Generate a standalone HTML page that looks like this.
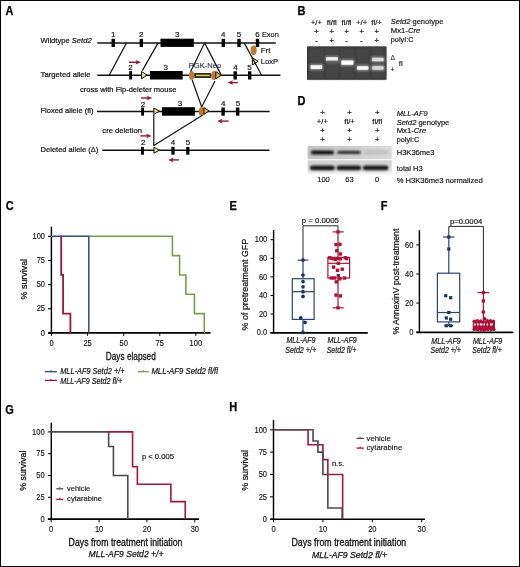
<!DOCTYPE html>
<html><head><meta charset="utf-8"><style>
html,body{margin:0;padding:0;background:#fff;width:520px;height:567px;overflow:hidden}
svg{display:block;will-change:transform}
text{font-family:"Liberation Sans", sans-serif}
</style></head><body>
<svg width="520" height="567" viewBox="0 0 520 567">
<rect width="520" height="567" fill="#fff"/>
<text x="5.5" y="15.3" font-size="12.1" stroke="#000" stroke-width="0.25" font-weight="bold" fill="#000" textLength="7.94" lengthAdjust="spacingAndGlyphs">A</text>
<text x="297.5" y="15.4" font-size="12.1" stroke="#000" stroke-width="0.25" font-weight="bold" fill="#000" textLength="7.94" lengthAdjust="spacingAndGlyphs">B</text>
<text x="5.8" y="210.3" font-size="12.1" stroke="#000" stroke-width="0.25" font-weight="bold" fill="#000" textLength="7.94" lengthAdjust="spacingAndGlyphs">C</text>
<text x="297.5" y="105.4" font-size="12.1" stroke="#000" stroke-width="0.25" font-weight="bold" fill="#000" textLength="7.94" lengthAdjust="spacingAndGlyphs">D</text>
<text x="229.4" y="210.1" font-size="12.1" stroke="#000" stroke-width="0.25" font-weight="bold" fill="#000" textLength="7.34" lengthAdjust="spacingAndGlyphs">E</text>
<text x="380.8" y="210.0" font-size="12.1" stroke="#000" stroke-width="0.25" font-weight="bold" fill="#000" textLength="6.72" lengthAdjust="spacingAndGlyphs">F</text>
<text x="5.3" y="413.9" font-size="12.1" stroke="#000" stroke-width="0.25" font-weight="bold" fill="#000" textLength="8.56" lengthAdjust="spacingAndGlyphs">G</text>
<text x="229.2" y="411.4" font-size="12.1" stroke="#000" stroke-width="0.25" font-weight="bold" fill="#000" textLength="7.94" lengthAdjust="spacingAndGlyphs">H</text>
<text x="40.5" y="42.9" font-size="8.0" stroke="#141414" stroke-width="0.22" fill="#141414" textLength="51.2" lengthAdjust="spacingAndGlyphs">Wildtype <tspan font-style="italic">Setd2</tspan></text>
<text x="40.6" y="77.4" font-size="8.0" stroke="#141414" stroke-width="0.22" fill="#141414" textLength="50.0" lengthAdjust="spacingAndGlyphs">Targeted allele</text>
<text x="40.5" y="113.0" font-size="8.0" stroke="#141414" stroke-width="0.22" fill="#141414" textLength="52.9" lengthAdjust="spacingAndGlyphs">Floxed allele (fl)</text>
<text x="40.6" y="151.9" font-size="8.0" stroke="#141414" stroke-width="0.22" fill="#141414" textLength="57.7" lengthAdjust="spacingAndGlyphs">Deleted allele (Δ)</text>
<text x="80.0" y="92.2" font-size="8.0" stroke="#141414" stroke-width="0.22" fill="#141414" textLength="96.5" lengthAdjust="spacingAndGlyphs">cross with Flp-deleter mouse</text>
<text x="102.3" y="132.8" font-size="8.0" stroke="#141414" stroke-width="0.22" fill="#141414" textLength="39.6" lengthAdjust="spacingAndGlyphs">cre deletion</text>
<text x="113.3" y="37.0" font-size="8.0" stroke="#141414" stroke-width="0.18" text-anchor="middle" fill="#141414">1</text>
<text x="141.3" y="37.0" font-size="8.0" stroke="#141414" stroke-width="0.18" text-anchor="middle" fill="#141414">2</text>
<text x="177.3" y="37.0" font-size="8.0" stroke="#141414" stroke-width="0.18" text-anchor="middle" fill="#141414">3</text>
<text x="223.3" y="37.0" font-size="8.0" stroke="#141414" stroke-width="0.18" text-anchor="middle" fill="#141414">4</text>
<text x="239.0" y="37.0" font-size="8.0" stroke="#141414" stroke-width="0.18" text-anchor="middle" fill="#141414">5</text>
<text x="257.5" y="37.0" font-size="8.0" stroke="#141414" stroke-width="0.18" text-anchor="middle" fill="#141414">6</text>
<text x="261.9" y="36.8" font-size="8.0" stroke="#141414" stroke-width="0.18" fill="#141414" textLength="16.9" lengthAdjust="spacingAndGlyphs">Exon</text>
<ellipse cx="253.6" cy="50.3" rx="3.1" ry="4.8" fill="#bf7b32"/>
<text x="260.7" y="53.0" font-size="8.0" stroke="#141414" stroke-width="0.18" fill="#141414">Frt</text>
<polygon points="252.3,57.7 252.3,65.0 258.2,61.35" fill="#e9dc8c" stroke="#111" stroke-width="1" stroke-linejoin="miter"/>
<text x="260.7" y="63.9" font-size="8.0" stroke="#141414" stroke-width="0.18" fill="#141414" textLength="17.3" lengthAdjust="spacingAndGlyphs">LoxP</text>
<line x1="126.5" y1="42.9" x2="109.2" y2="75.2" stroke="#111" stroke-width="1.2" />
<line x1="158.1" y1="42.9" x2="142.3" y2="70.6" stroke="#111" stroke-width="1.2" />
<line x1="204.6" y1="42.9" x2="190.4" y2="72.0" stroke="#111" stroke-width="1.2" />
<line x1="204.6" y1="42.9" x2="221.0" y2="74.6" stroke="#111" stroke-width="1.2" />
<line x1="244.2" y1="42.9" x2="261.6" y2="75.2" stroke="#111" stroke-width="1.2" />
<line x1="97.3" y1="42.9" x2="275.8" y2="42.9" stroke="#111" stroke-width="1.5" />
<rect x="111.5" y="38.8" width="3.5" height="8.2" fill="#000" />
<rect x="139.6" y="38.8" width="3.4" height="8.2" fill="#000" />
<rect x="160.5" y="38.7" width="33.3" height="8.2" fill="#000" />
<rect x="221.6" y="38.8" width="3.4" height="8.2" fill="#000" />
<rect x="237.3" y="38.8" width="3.4" height="8.2" fill="#000" />
<rect x="255.8" y="38.8" width="3.4" height="8.2" fill="#000" />
<line x1="97.3" y1="75.3" x2="280.4" y2="75.3" stroke="#111" stroke-width="1.5" />
<rect x="129.2" y="71.1" width="2.9" height="8.4" fill="#000" />
<text x="130.5" y="70.0" font-size="8.0" stroke="#141414" stroke-width="0.18" text-anchor="middle" fill="#141414">2</text>
<line x1="129.0" y1="62.3" x2="137.1" y2="62.3" stroke="#8f1637" stroke-width="1.4"/>
<polygon points="141.0,62.3 135.6,60.0 136.79999999999998,62.3 135.6,64.6" fill="#8f1637"/>
<rect x="149.9" y="71.0" width="32.8" height="8.5" fill="#000" />
<text x="165.8" y="69.6" font-size="8.0" stroke="#141414" stroke-width="0.18" text-anchor="middle" fill="#141414">3</text>
<text x="188.8" y="68.0" font-size="7.8" stroke="#2a3444" stroke-width="0.14" fill="#2a3444" textLength="32.4" lengthAdjust="spacingAndGlyphs">PGK-Neo</text>
<rect x="194.3" y="73.1" width="16.5" height="4.8" fill="#111" />
<rect x="195.9" y="74.6" width="13.8" height="1.7" fill="#e8d040" />
<ellipse cx="191.7" cy="75.5" rx="2.7" ry="4.5" fill="#bf7b32"/>
<ellipse cx="213.8" cy="75.5" rx="2.7" ry="4.5" fill="#bf7b32"/>
<polygon points="141.5,71.4 141.5,78.8 147.0,75.1" fill="#e9dc8c" stroke="#111" stroke-width="1" stroke-linejoin="miter"/>
<polygon points="215.8,71.6 215.8,78.9 221.3,75.25" fill="#e7b83a" stroke="#111" stroke-width="1" stroke-linejoin="miter"/>
<rect x="233.5" y="71.3" width="3.4" height="8.2" fill="#000" />
<rect x="248.0" y="71.3" width="3.4" height="8.2" fill="#000" />
<text x="235.4" y="70.0" font-size="8.0" stroke="#141414" stroke-width="0.18" text-anchor="middle" fill="#141414">4</text>
<text x="249.6" y="70.0" font-size="8.0" stroke="#141414" stroke-width="0.18" text-anchor="middle" fill="#141414">5</text>
<line x1="237.8" y1="82.6" x2="231.5" y2="82.6" stroke="#8f1637" stroke-width="1.4"/>
<polygon points="227.6,82.6 233.0,80.3 231.8,82.6 233.0,84.89999999999999" fill="#8f1637"/>
<line x1="192.2" y1="80.0" x2="201.7" y2="107.0" stroke="#111" stroke-width="1.2" />
<line x1="215.0" y1="81.0" x2="201.7" y2="107.0" stroke="#111" stroke-width="1.2" />
<line x1="96.9" y1="111.4" x2="269.6" y2="111.4" stroke="#111" stroke-width="1.5" />
<rect x="141.2" y="107.5" width="2.8" height="8.2" fill="#000" />
<text x="143.0" y="106.9" font-size="8.0" stroke="#141414" stroke-width="0.18" text-anchor="middle" fill="#141414">2</text>
<line x1="141.0" y1="98.0" x2="148.29999999999998" y2="98.0" stroke="#8f1637" stroke-width="1.4"/>
<polygon points="152.2,98.0 146.79999999999998,95.7 147.99999999999997,98.0 146.79999999999998,100.3" fill="#8f1637"/>
<rect x="161.9" y="107.2" width="33.0" height="8.5" fill="#000" />
<text x="180.0" y="105.6" font-size="8.0" stroke="#141414" stroke-width="0.18" text-anchor="middle" fill="#141414">3</text>
<ellipse cx="201.7" cy="111.5" rx="3.0" ry="4.5" fill="#bf7b32"/>
<polygon points="203.9,107.6 203.9,114.4 209.0,111.0" fill="#e7b83a" stroke="#111" stroke-width="1" stroke-linejoin="miter"/>
<polygon points="153.8,108.0 153.8,114.3 159.5,111.15" fill="#e9dc8c" stroke="#111" stroke-width="1" stroke-linejoin="miter"/>
<rect x="221.4" y="107.5" width="3.4" height="8.2" fill="#000" />
<rect x="235.9" y="107.5" width="3.5" height="8.2" fill="#000" />
<text x="223.3" y="105.6" font-size="8.0" stroke="#141414" stroke-width="0.18" text-anchor="middle" fill="#141414">4</text>
<text x="238.0" y="105.6" font-size="8.0" stroke="#141414" stroke-width="0.18" text-anchor="middle" fill="#141414">5</text>
<line x1="228.7" y1="121.1" x2="221.1" y2="121.1" stroke="#8f1637" stroke-width="1.4"/>
<polygon points="217.2,121.1 222.6,118.8 221.4,121.1 222.6,123.39999999999999" fill="#8f1637"/>
<line x1="153.8" y1="114.5" x2="153.8" y2="146.0" stroke="#111" stroke-width="1.2" />
<line x1="202.5" y1="115.3" x2="153.8" y2="145.5" stroke="#111" stroke-width="1.2" />
<line x1="102.2" y1="150.3" x2="269.4" y2="150.3" stroke="#111" stroke-width="1.5" />
<rect x="141.0" y="146.9" width="2.9" height="7.8" fill="#000" />
<text x="143.3" y="145.0" font-size="8.0" stroke="#141414" stroke-width="0.18" text-anchor="middle" fill="#141414">2</text>
<line x1="140.3" y1="135.9" x2="147.7" y2="135.9" stroke="#8f1637" stroke-width="1.4"/>
<polygon points="151.6,135.9 146.2,133.6 147.39999999999998,135.9 146.2,138.20000000000002" fill="#8f1637"/>
<polygon points="153.9,147.2 153.9,153.2 159.5,150.2" fill="#e9dc8c" stroke="#111" stroke-width="1" stroke-linejoin="miter"/>
<rect x="171.4" y="146.9" width="3.2" height="7.8" fill="#000" />
<rect x="186.2" y="146.9" width="3.2" height="7.8" fill="#000" />
<text x="173.0" y="145.0" font-size="8.0" stroke="#141414" stroke-width="0.18" text-anchor="middle" fill="#141414">4</text>
<text x="188.0" y="145.0" font-size="8.0" stroke="#141414" stroke-width="0.18" text-anchor="middle" fill="#141414">5</text>
<line x1="178.9" y1="159.9" x2="172.1" y2="159.9" stroke="#8f1637" stroke-width="1.4"/>
<polygon points="168.2,159.9 173.6,157.6 172.4,159.9 173.6,162.20000000000002" fill="#8f1637"/>
<text x="316.4" y="25.0" font-size="7.8" stroke="#141414" stroke-width="0.2" text-anchor="middle" fill="#141414">+/+</text>
<text x="331.8" y="25.0" font-size="7.8" stroke="#141414" stroke-width="0.2" text-anchor="middle" fill="#141414">fl/fl</text>
<text x="346.6" y="25.0" font-size="7.8" stroke="#141414" stroke-width="0.2" text-anchor="middle" fill="#141414">fl/fl</text>
<text x="361.6" y="25.0" font-size="7.8" stroke="#141414" stroke-width="0.2" text-anchor="middle" fill="#141414">+/+</text>
<text x="376.6" y="25.0" font-size="7.8" stroke="#141414" stroke-width="0.2" text-anchor="middle" fill="#141414">fl/+</text>
<text x="316.4" y="33.5" font-size="7.6" stroke="#141414" stroke-width="0.22" text-anchor="middle" fill="#141414">+</text>
<text x="331.8" y="33.5" font-size="7.6" stroke="#141414" stroke-width="0.22" text-anchor="middle" fill="#141414">+</text>
<text x="346.6" y="33.5" font-size="7.6" stroke="#141414" stroke-width="0.22" text-anchor="middle" fill="#141414">+</text>
<text x="361.6" y="33.5" font-size="7.6" stroke="#141414" stroke-width="0.22" text-anchor="middle" fill="#141414">+</text>
<text x="376.6" y="33.5" font-size="7.6" stroke="#141414" stroke-width="0.22" text-anchor="middle" fill="#141414">+</text>
<text x="316.4" y="42.9" font-size="7.6" stroke="#141414" stroke-width="0.22" text-anchor="middle" fill="#141414">-</text>
<text x="331.8" y="42.9" font-size="7.6" stroke="#141414" stroke-width="0.22" text-anchor="middle" fill="#141414">+</text>
<text x="346.6" y="42.9" font-size="7.6" stroke="#141414" stroke-width="0.22" text-anchor="middle" fill="#141414">-</text>
<text x="361.6" y="42.9" font-size="7.6" stroke="#141414" stroke-width="0.22" text-anchor="middle" fill="#141414">-</text>
<text x="376.6" y="42.9" font-size="7.6" stroke="#141414" stroke-width="0.22" text-anchor="middle" fill="#141414">+</text>
<text x="390.8" y="24.4" font-size="8.0" stroke="#141414" stroke-width="0.18" fill="#141414" textLength="52.6" lengthAdjust="spacingAndGlyphs"><tspan font-style="italic">Setd2</tspan> genotype</text>
<text x="390.8" y="33.3" font-size="8.0" stroke="#141414" stroke-width="0.18" fill="#141414" textLength="29.5" lengthAdjust="spacingAndGlyphs">Mx1-<tspan font-style="italic">Cre</tspan></text>
<text x="390.8" y="42.2" font-size="8.0" stroke="#141414" stroke-width="0.18" fill="#141414" textLength="22.7" lengthAdjust="spacingAndGlyphs">polyI:C</text>
<defs><filter id="bl1" x="-30%" y="-80%" width="160%" height="260%"><feGaussianBlur stdDeviation="0.7"/></filter><filter id="bl2" x="-30%" y="-80%" width="160%" height="260%"><feGaussianBlur stdDeviation="1.0"/></filter><filter id="bl3" x="-10%" y="-10%" width="120%" height="120%"><feGaussianBlur stdDeviation="0.5"/></filter><linearGradient id="gb1" x1="0" x2="1" y1="0" y2="0"><stop offset="0" stop-color="#c4c4c4"/><stop offset="0.6" stop-color="#cfcfcf"/><stop offset="1" stop-color="#dadada"/></linearGradient><linearGradient id="gb2" x1="0" x2="0" y1="0" y2="1"><stop offset="0" stop-color="#d0d0d0"/><stop offset="0.65" stop-color="#e0e0e0"/><stop offset="1" stop-color="#f4f4f4"/></linearGradient></defs>
<rect x="307.0" y="46.4" width="79.5" height="33.4" fill="#363636" />
<rect x="309.0" y="47.5" width="15.0" height="31.5" fill="#454545" filter="url(#bl2)"/>
<rect x="325.0" y="47.5" width="14.0" height="31.5" fill="#454545" filter="url(#bl2)"/>
<rect x="340.0" y="47.5" width="15.0" height="31.5" fill="#454545" filter="url(#bl2)"/>
<rect x="355.6" y="47.5" width="14.399999999999977" height="31.5" fill="#454545" filter="url(#bl2)"/>
<rect x="370.6" y="47.5" width="15.0" height="31.5" fill="#454545" filter="url(#bl2)"/>
<rect x="309.8" y="64.14999999999999" width="13.199999999999966" height="5.9" fill="#9a9a9a" filter="url(#bl2)"/>
<rect x="310.6" y="65.14999999999999" width="11.599999999999966" height="3.9" fill="#f8f8f8" rx="1" filter="url(#bl1)"/>
<rect x="325.4" y="56.3" width="13.200000000000022" height="5.4" fill="#9a9a9a" filter="url(#bl2)"/>
<rect x="326.2" y="57.3" width="11.600000000000023" height="3.4" fill="#f4f4f4" rx="1" filter="url(#bl1)"/>
<rect x="340.59999999999997" y="59.5" width="13.6" height="6.2" fill="#9a9a9a" filter="url(#bl2)"/>
<rect x="341.4" y="60.5" width="12.0" height="4.2" fill="#fcfcfc" rx="1" filter="url(#bl1)"/>
<rect x="356.2" y="65.15" width="12.999999999999977" height="5.7" fill="#9a9a9a" filter="url(#bl2)"/>
<rect x="357.0" y="66.15" width="11.399999999999977" height="3.7" fill="#f8f8f8" rx="1" filter="url(#bl1)"/>
<rect x="371.4" y="56.85" width="13.000000000000034" height="5.3" fill="#9a9a9a" filter="url(#bl2)"/>
<rect x="372.2" y="57.85" width="11.400000000000034" height="3.3" fill="#dcdcdc" rx="1" filter="url(#bl1)"/>
<rect x="371.4" y="65.15" width="13.000000000000034" height="5.5" fill="#9a9a9a" filter="url(#bl2)"/>
<rect x="372.2" y="66.15" width="11.400000000000034" height="3.5" fill="#d8d8d8" rx="1" filter="url(#bl1)"/>
<rect x="327" y="61.2" width="10.5" height="3.4" fill="#5a5a5a" filter="url(#bl2)"/>
<text x="390.6" y="60.4" font-size="6.6" stroke="#333" stroke-width="0.14" fill="#333">Δ</text>
<text x="398.8" y="65.5" font-size="7.8" stroke="#141414" stroke-width="0.14" fill="#141414">fl</text>
<text x="390.2" y="71.8" font-size="7.2" stroke="#141414" stroke-width="0.14" fill="#141414">+</text>
<text x="322.4" y="114.6" font-size="7.7" stroke="#141414" stroke-width="0.22" text-anchor="middle" fill="#141414">+</text>
<text x="349.6" y="114.6" font-size="7.7" stroke="#141414" stroke-width="0.22" text-anchor="middle" fill="#141414">+</text>
<text x="377.2" y="114.6" font-size="7.7" stroke="#141414" stroke-width="0.22" text-anchor="middle" fill="#141414">+</text>
<text x="322.4" y="124.4" font-size="7.7" stroke="#141414" stroke-width="0.2" text-anchor="middle" fill="#141414">+/+</text>
<text x="349.6" y="124.4" font-size="7.7" stroke="#141414" stroke-width="0.2" text-anchor="middle" fill="#141414">fl/+</text>
<text x="377.2" y="124.4" font-size="7.7" stroke="#141414" stroke-width="0.2" text-anchor="middle" fill="#141414">fl/fl</text>
<text x="322.4" y="132.8" font-size="7.7" stroke="#141414" stroke-width="0.22" text-anchor="middle" fill="#141414">+</text>
<text x="322.4" y="142.3" font-size="7.7" stroke="#141414" stroke-width="0.22" text-anchor="middle" fill="#141414">+</text>
<text x="349.6" y="132.8" font-size="7.7" stroke="#141414" stroke-width="0.22" text-anchor="middle" fill="#141414">+</text>
<text x="349.6" y="142.3" font-size="7.7" stroke="#141414" stroke-width="0.22" text-anchor="middle" fill="#141414">+</text>
<text x="377.2" y="132.8" font-size="7.7" stroke="#141414" stroke-width="0.22" text-anchor="middle" fill="#141414">+</text>
<text x="377.2" y="142.3" font-size="7.7" stroke="#141414" stroke-width="0.22" text-anchor="middle" fill="#141414">+</text>
<text x="396.7" y="115.8" font-size="8.0" stroke="#141414" stroke-width="0.18" font-style="italic" fill="#141414" textLength="31.0" lengthAdjust="spacingAndGlyphs">MLL-AF9</text>
<text x="396.7" y="124.5" font-size="8.0" stroke="#141414" stroke-width="0.18" fill="#141414" textLength="52.6" lengthAdjust="spacingAndGlyphs"><tspan font-style="italic">Setd2</tspan> genotype</text>
<text x="396.7" y="132.8" font-size="8.0" stroke="#141414" stroke-width="0.18" fill="#141414" textLength="29.5" lengthAdjust="spacingAndGlyphs">Mx1-<tspan font-style="italic">Cre</tspan></text>
<text x="396.7" y="141.6" font-size="8.0" stroke="#141414" stroke-width="0.18" fill="#141414" textLength="22.7" lengthAdjust="spacingAndGlyphs">polyI:C</text>
<text x="396.7" y="155.1" font-size="8.0" stroke="#141414" stroke-width="0.18" fill="#141414" textLength="37.8" lengthAdjust="spacingAndGlyphs">H3K36me3</text>
<text x="396.7" y="171.2" font-size="8.0" stroke="#141414" stroke-width="0.18" fill="#141414" textLength="26.0" lengthAdjust="spacingAndGlyphs">total H3</text>
<text x="396.7" y="182.6" font-size="8.0" stroke="#141414" stroke-width="0.18" fill="#141414" textLength="86.0" lengthAdjust="spacingAndGlyphs">% H3K36me3 normalized</text>
<text x="323.5" y="182.4" font-size="7.5" stroke="#141414" stroke-width="0.14" text-anchor="middle" fill="#141414">100</text>
<text x="349.4" y="182.4" font-size="7.5" stroke="#141414" stroke-width="0.14" text-anchor="middle" fill="#141414">63</text>
<text x="377.0" y="182.4" font-size="7.5" stroke="#141414" stroke-width="0.14" text-anchor="middle" fill="#141414">0</text>
<rect x="307.6" y="145.8" width="84.2" height="13.4" fill="url(#gb1)" filter="url(#bl3)"/>
<rect x="307.6" y="160.3" width="84.2" height="14.2" fill="url(#gb2)" filter="url(#bl3)"/>
<rect x="310.8" y="150.4" width="23.2" height="4.0" fill="#111" rx="2" filter="url(#bl2)"/>
<rect x="337.2" y="150.8" width="23.6" height="3.2" fill="#2e2e2e" rx="1.6" filter="url(#bl2)"/>
<rect x="364" y="150.6" width="24" height="3.4" fill="#bdbdbd" filter="url(#bl2)"/>
<rect x="309.8" y="165.6" width="25.0" height="4.6" fill="#161616" rx="2.2" filter="url(#bl2)"/>
<rect x="336.6" y="165.6" width="24.6" height="4.6" fill="#181818" rx="2.2" filter="url(#bl2)"/>
<rect x="362.8" y="165.6" width="25.6" height="4.6" fill="#181818" rx="2.2" filter="url(#bl2)"/>
<line x1="51.4" y1="226.6" x2="51.4" y2="333.6" stroke="#000" stroke-width="1.45" />
<line x1="48.0" y1="332.9" x2="210.5" y2="332.9" stroke="#000" stroke-width="1.65" />
<line x1="48.0" y1="332.9" x2="51.4" y2="332.9" stroke="#000" stroke-width="1.1" />
<text x="45.0" y="335.59999999999997" font-size="8.25" stroke="#141414" stroke-width="0.14" text-anchor="end" fill="#141414" textLength="4.17" lengthAdjust="spacingAndGlyphs">0</text>
<line x1="48.0" y1="308.75" x2="51.4" y2="308.75" stroke="#000" stroke-width="1.1" />
<text x="45.0" y="311.45" font-size="8.25" stroke="#141414" stroke-width="0.14" text-anchor="end" fill="#141414" textLength="8.34" lengthAdjust="spacingAndGlyphs">25</text>
<line x1="48.0" y1="284.59999999999997" x2="51.4" y2="284.59999999999997" stroke="#000" stroke-width="1.1" />
<text x="45.0" y="287.29999999999995" font-size="8.25" stroke="#141414" stroke-width="0.14" text-anchor="end" fill="#141414" textLength="8.34" lengthAdjust="spacingAndGlyphs">50</text>
<line x1="48.0" y1="260.45" x2="51.4" y2="260.45" stroke="#000" stroke-width="1.1" />
<text x="45.0" y="263.15" font-size="8.25" stroke="#141414" stroke-width="0.14" text-anchor="end" fill="#141414" textLength="8.34" lengthAdjust="spacingAndGlyphs">75</text>
<line x1="48.0" y1="236.29999999999998" x2="51.4" y2="236.29999999999998" stroke="#000" stroke-width="1.1" />
<text x="45.0" y="238.99999999999997" font-size="8.25" stroke="#141414" stroke-width="0.14" text-anchor="end" fill="#141414" textLength="12.51" lengthAdjust="spacingAndGlyphs">100</text>
<line x1="51.5" y1="332.9" x2="51.5" y2="335.9" stroke="#000" stroke-width="1.0" />
<text x="51.5" y="346.4" font-size="8.25" stroke="#141414" stroke-width="0.14" text-anchor="middle" fill="#141414" textLength="4.17" lengthAdjust="spacingAndGlyphs">0</text>
<line x1="87.58" y1="332.9" x2="87.58" y2="335.9" stroke="#000" stroke-width="1.0" />
<text x="87.58" y="346.4" font-size="8.25" stroke="#141414" stroke-width="0.14" text-anchor="middle" fill="#141414" textLength="8.34" lengthAdjust="spacingAndGlyphs">25</text>
<line x1="123.66" y1="332.9" x2="123.66" y2="335.9" stroke="#000" stroke-width="1.0" />
<text x="123.66" y="346.4" font-size="8.25" stroke="#141414" stroke-width="0.14" text-anchor="middle" fill="#141414" textLength="8.34" lengthAdjust="spacingAndGlyphs">50</text>
<line x1="159.74" y1="332.9" x2="159.74" y2="335.9" stroke="#000" stroke-width="1.0" />
<text x="159.74" y="346.4" font-size="8.25" stroke="#141414" stroke-width="0.14" text-anchor="middle" fill="#141414" textLength="8.34" lengthAdjust="spacingAndGlyphs">75</text>
<line x1="195.82" y1="332.9" x2="195.82" y2="335.9" stroke="#000" stroke-width="1.0" />
<text x="195.82" y="346.4" font-size="8.25" stroke="#141414" stroke-width="0.14" text-anchor="middle" fill="#141414" textLength="12.51" lengthAdjust="spacingAndGlyphs">100</text>
<text x="105.8" y="359.8" font-size="10.2" stroke="#141414" stroke-width="0.3" fill="#141414" textLength="50.0" lengthAdjust="spacingAndGlyphs">Days elapsed</text>
<text x="27.3" y="299.4" font-size="9.8" stroke="#141414" stroke-width="0.25" fill="#141414" textLength="40.5" lengthAdjust="spacingAndGlyphs" transform="rotate(-90 27.3 299.4)">% survival</text>
<polyline points="88.8,236.29999999999998 172.4,236.29999999999998 172.4,255.61999999999998 179.6,255.61999999999998 179.6,274.94 185.9,274.94 185.9,294.26 194.4,294.26 194.4,313.58 204.3,313.58 204.3,332.9" fill="none" stroke="#74a24a" stroke-width="1.6" stroke-linejoin="miter" />
<polyline points="60.4,236.29999999999998 61.2,236.29999999999998 61.2,274.94 63.1,274.94 63.1,313.58 70.4,313.58 70.4,332.9" fill="none" stroke="#9c163f" stroke-width="1.8" stroke-linejoin="miter" />
<polyline points="51.1,236.29999999999998 88.8,236.29999999999998 88.8,332.9" fill="none" stroke="#34497e" stroke-width="1.5" stroke-linejoin="miter" />
<line x1="44.8" y1="371.7" x2="56.9" y2="371.7" stroke="#34497e" stroke-width="1.3" />
<line x1="50.849999999999994" y1="370.09999999999997" x2="50.849999999999994" y2="371.7" stroke="#34497e" stroke-width="1.0" />
<line x1="44.8" y1="380.4" x2="56.9" y2="380.4" stroke="#9c163f" stroke-width="1.3" />
<line x1="50.849999999999994" y1="378.79999999999995" x2="50.849999999999994" y2="380.4" stroke="#9c163f" stroke-width="1.0" />
<line x1="137.9" y1="371.7" x2="148.9" y2="371.7" stroke="#74a24a" stroke-width="1.3" />
<line x1="143.4" y1="370.09999999999997" x2="143.4" y2="371.7" stroke="#74a24a" stroke-width="1.0" />
<text x="60.2" y="374.3" font-size="8.5" stroke="#141414" stroke-width="0.2" font-style="italic" fill="#141414" textLength="64.4" lengthAdjust="spacingAndGlyphs">MLL-AF9 Setd2 +/+</text>
<text x="60.2" y="383.8" font-size="8.5" stroke="#141414" stroke-width="0.2" font-style="italic" fill="#141414" textLength="62.0" lengthAdjust="spacingAndGlyphs">MLL-AF9 Setd2 fl/+</text>
<text x="151.4" y="374.3" font-size="8.5" stroke="#141414" stroke-width="0.2" font-style="italic" fill="#141414" textLength="66.6" lengthAdjust="spacingAndGlyphs">MLL-AF9 Setd2 fl/fl</text>
<line x1="273.6" y1="230.0" x2="273.6" y2="333.4" stroke="#000" stroke-width="1.45" />
<line x1="270.4" y1="332.8" x2="367.8" y2="332.8" stroke="#000" stroke-width="1.65" />
<line x1="270.5" y1="332.6" x2="273.7" y2="332.6" stroke="#000" stroke-width="1.0" />
<text x="267.3" y="335.3" font-size="8.25" stroke="#141414" stroke-width="0.14" text-anchor="end" fill="#141414" textLength="10.43" lengthAdjust="spacingAndGlyphs">0.0</text>
<line x1="270.5" y1="314.02000000000004" x2="273.7" y2="314.02000000000004" stroke="#000" stroke-width="1.0" />
<text x="267.3" y="316.72" font-size="8.25" stroke="#141414" stroke-width="0.14" text-anchor="end" fill="#141414" textLength="8.34" lengthAdjust="spacingAndGlyphs">20</text>
<line x1="270.5" y1="295.44" x2="273.7" y2="295.44" stroke="#000" stroke-width="1.0" />
<text x="267.3" y="298.14" font-size="8.25" stroke="#141414" stroke-width="0.14" text-anchor="end" fill="#141414" textLength="8.34" lengthAdjust="spacingAndGlyphs">40</text>
<line x1="270.5" y1="276.86" x2="273.7" y2="276.86" stroke="#000" stroke-width="1.0" />
<text x="267.3" y="279.56" font-size="8.25" stroke="#141414" stroke-width="0.14" text-anchor="end" fill="#141414" textLength="8.34" lengthAdjust="spacingAndGlyphs">60</text>
<line x1="270.5" y1="258.28000000000003" x2="273.7" y2="258.28000000000003" stroke="#000" stroke-width="1.0" />
<text x="267.3" y="260.98" font-size="8.25" stroke="#141414" stroke-width="0.14" text-anchor="end" fill="#141414" textLength="8.34" lengthAdjust="spacingAndGlyphs">80</text>
<line x1="270.5" y1="239.70000000000002" x2="273.7" y2="239.70000000000002" stroke="#000" stroke-width="1.0" />
<text x="267.3" y="242.4" font-size="8.25" stroke="#141414" stroke-width="0.14" text-anchor="end" fill="#141414" textLength="12.51" lengthAdjust="spacingAndGlyphs">100</text>
<text x="247.6" y="330.4" font-size="9.1" stroke="#141414" stroke-width="0.22" fill="#141414" textLength="91.6" lengthAdjust="spacingAndGlyphs" transform="rotate(-90 247.6 330.4)">% of pretreatment GFP</text>
<polyline points="303.0,260.0 303.0,225.8 338.0,225.8 338.0,231.5" fill="none" stroke="#111" stroke-width="0.9" stroke-linejoin="miter" />
<text x="301.8" y="222.6" font-size="8.0" stroke="#141414" stroke-width="0.18" fill="#141414" textLength="37.0" lengthAdjust="spacingAndGlyphs">p = 0.0005</text>
<rect x="292.3" y="278.7" width="21.8" height="40.7" fill="none" stroke="#2e436f" stroke-width="1.2"/>
<line x1="292.3" y1="291.7" x2="314.1" y2="291.7" stroke="#2e436f" stroke-width="1.2" />
<line x1="303.0" y1="260.1" x2="303.0" y2="278.7" stroke="#2e436f" stroke-width="1.2" />
<line x1="303.0" y1="319.4" x2="303.0" y2="332.6" stroke="#2e436f" stroke-width="1.2" />
<line x1="297.6" y1="260.1" x2="308.3" y2="260.1" stroke="#2e436f" stroke-width="1.2" />
<circle cx="303" cy="260.1" r="1.85" fill="#1c3264"/>
<circle cx="303" cy="275" r="1.85" fill="#1c3264"/>
<circle cx="303" cy="281.6" r="1.85" fill="#1c3264"/>
<circle cx="303" cy="286.8" r="1.85" fill="#1c3264"/>
<circle cx="303" cy="291.7" r="1.85" fill="#1c3264"/>
<circle cx="303" cy="296.4" r="1.85" fill="#1c3264"/>
<circle cx="300.8" cy="317.9" r="1.85" fill="#1c3264"/>
<circle cx="305" cy="322.4" r="1.85" fill="#1c3264"/>
<circle cx="303" cy="332.4" r="1.85" fill="#1c3264"/>
<rect x="327.9" y="257.4" width="21.7" height="20.6" fill="none" stroke="#aa1239" stroke-width="1.2"/>
<line x1="327.9" y1="263.3" x2="349.6" y2="263.3" stroke="#aa1239" stroke-width="1.2" />
<line x1="338.0" y1="231.9" x2="338.0" y2="257.4" stroke="#aa1239" stroke-width="1.2" />
<line x1="338.0" y1="278.0" x2="338.0" y2="307.8" stroke="#aa1239" stroke-width="1.2" />
<line x1="332.6" y1="231.9" x2="343.7" y2="231.9" stroke="#aa1239" stroke-width="1.2" />
<line x1="332.6" y1="307.8" x2="343.7" y2="307.8" stroke="#aa1239" stroke-width="1.2" />
<rect x="336.3" y="230.20000000000002" width="3.4" height="3.4" fill="#aa1239"/>
<rect x="334.3" y="242.9" width="3.4" height="3.4" fill="#aa1239"/>
<rect x="338.2" y="242.60000000000002" width="3.4" height="3.4" fill="#aa1239"/>
<rect x="335.1" y="249.10000000000002" width="3.4" height="3.4" fill="#aa1239"/>
<rect x="338.6" y="252.3" width="3.4" height="3.4" fill="#aa1239"/>
<rect x="328.1" y="256.1" width="3.4" height="3.4" fill="#aa1239"/>
<rect x="330.40000000000003" y="256.90000000000003" width="3.4" height="3.4" fill="#aa1239"/>
<rect x="333.5" y="257.7" width="3.4" height="3.4" fill="#aa1239"/>
<rect x="335.8" y="256.90000000000003" width="3.4" height="3.4" fill="#aa1239"/>
<rect x="338.90000000000003" y="257.2" width="3.4" height="3.4" fill="#aa1239"/>
<rect x="343.6" y="256.1" width="3.4" height="3.4" fill="#aa1239"/>
<rect x="345.1" y="256.90000000000003" width="3.4" height="3.4" fill="#aa1239"/>
<rect x="336.6" y="261.6" width="3.4" height="3.4" fill="#aa1239"/>
<rect x="331.90000000000003" y="265.40000000000003" width="3.4" height="3.4" fill="#aa1239"/>
<rect x="335.8" y="268.6" width="3.4" height="3.4" fill="#aa1239"/>
<rect x="340.5" y="267.5" width="3.4" height="3.4" fill="#aa1239"/>
<rect x="336.6" y="274.0" width="3.4" height="3.4" fill="#aa1239"/>
<rect x="329.6" y="276.3" width="3.4" height="3.4" fill="#aa1239"/>
<rect x="332.7" y="276.3" width="3.4" height="3.4" fill="#aa1239"/>
<rect x="338.2" y="277.1" width="3.4" height="3.4" fill="#aa1239"/>
<rect x="342.8" y="276.3" width="3.4" height="3.4" fill="#aa1239"/>
<rect x="334.6" y="280.2" width="3.4" height="3.4" fill="#aa1239"/>
<rect x="334.3" y="293.40000000000003" width="3.4" height="3.4" fill="#aa1239"/>
<rect x="338.6" y="294.2" width="3.4" height="3.4" fill="#aa1239"/>
<rect x="336.3" y="306.1" width="3.4" height="3.4" fill="#aa1239"/>
<text x="286.5" y="343.4" font-size="8.6" stroke="#141414" stroke-width="0.2" font-style="italic" fill="#141414" textLength="29.0" lengthAdjust="spacingAndGlyphs">MLL-AF9</text>
<text x="285.2" y="353.3" font-size="8.6" stroke="#141414" stroke-width="0.2" font-style="italic" fill="#141414" textLength="30.9" lengthAdjust="spacingAndGlyphs">Setd2 +/+</text>
<text x="327.5" y="343.4" font-size="8.6" stroke="#141414" stroke-width="0.2" font-style="italic" fill="#141414" textLength="29.2" lengthAdjust="spacingAndGlyphs">MLL-AF9</text>
<text x="326.7" y="353.3" font-size="8.6" stroke="#141414" stroke-width="0.2" font-style="italic" fill="#141414" textLength="29.6" lengthAdjust="spacingAndGlyphs">Setd2 fl/+</text>
<line x1="419.4" y1="230.2" x2="419.4" y2="333.0" stroke="#000" stroke-width="1.45" />
<line x1="416.3" y1="332.3" x2="513.3" y2="332.3" stroke="#000" stroke-width="1.65" />
<line x1="416.3" y1="332.2" x2="419.4" y2="332.2" stroke="#000" stroke-width="1.0" />
<text x="413.4" y="334.9" font-size="8.25" stroke="#141414" stroke-width="0.14" text-anchor="end" fill="#141414" textLength="4.17" lengthAdjust="spacingAndGlyphs">0</text>
<line x1="416.3" y1="303.09999999999997" x2="419.4" y2="303.09999999999997" stroke="#000" stroke-width="1.0" />
<text x="413.4" y="305.79999999999995" font-size="8.25" stroke="#141414" stroke-width="0.14" text-anchor="end" fill="#141414" textLength="8.34" lengthAdjust="spacingAndGlyphs">20</text>
<line x1="416.3" y1="274.0" x2="419.4" y2="274.0" stroke="#000" stroke-width="1.0" />
<text x="413.4" y="276.7" font-size="8.25" stroke="#141414" stroke-width="0.14" text-anchor="end" fill="#141414" textLength="8.34" lengthAdjust="spacingAndGlyphs">40</text>
<line x1="416.3" y1="244.89999999999998" x2="419.4" y2="244.89999999999998" stroke="#000" stroke-width="1.0" />
<text x="413.4" y="247.59999999999997" font-size="8.25" stroke="#141414" stroke-width="0.14" text-anchor="end" fill="#141414" textLength="8.34" lengthAdjust="spacingAndGlyphs">60</text>
<text x="399.2" y="334.6" font-size="9.4" stroke="#141414" stroke-width="0.22" fill="#141414" textLength="106.0" lengthAdjust="spacingAndGlyphs" transform="rotate(-90 399.2 334.6)">% AnnexinV post-treatment</text>
<polyline points="448.8,237.0 448.8,226.4 483.4,226.4 483.4,292.6" fill="none" stroke="#111" stroke-width="0.9" stroke-linejoin="miter" />
<text x="449.9" y="223.6" font-size="8.0" stroke="#141414" stroke-width="0.18" fill="#141414" textLength="32.3" lengthAdjust="spacingAndGlyphs">p=0.0004</text>
<rect x="437.4" y="273.2" width="22.3" height="48.7" fill="none" stroke="#2e436f" stroke-width="1.2"/>
<line x1="437.4" y1="312.5" x2="459.7" y2="312.5" stroke="#2e436f" stroke-width="1.2" />
<line x1="448.8" y1="237.0" x2="448.8" y2="273.2" stroke="#2e436f" stroke-width="1.2" />
<line x1="448.8" y1="321.9" x2="448.8" y2="325.7" stroke="#2e436f" stroke-width="1.2" />
<line x1="443.0" y1="237.0" x2="454.5" y2="237.0" stroke="#2e436f" stroke-width="1.2" />
<line x1="444.4" y1="325.7" x2="453.0" y2="325.7" stroke="#2e436f" stroke-width="1.2" />
<rect x="447.2" y="235.4" width="3.2" height="3.2" fill="#1c3264"/>
<rect x="447.2" y="247.4" width="3.2" height="3.2" fill="#1c3264"/>
<rect x="444.09999999999997" y="294.09999999999997" width="3.2" height="3.2" fill="#1c3264"/>
<rect x="449.09999999999997" y="296.09999999999997" width="3.2" height="3.2" fill="#1c3264"/>
<rect x="447.2" y="310.9" width="3.2" height="3.2" fill="#1c3264"/>
<rect x="444.7" y="316.4" width="3.2" height="3.2" fill="#1c3264"/>
<rect x="449.09999999999997" y="317.59999999999997" width="3.2" height="3.2" fill="#1c3264"/>
<rect x="444.7" y="324.09999999999997" width="3.2" height="3.2" fill="#1c3264"/>
<rect x="449.09999999999997" y="324.09999999999997" width="3.2" height="3.2" fill="#1c3264"/>
<line x1="483.4" y1="292.6" x2="483.4" y2="332.2" stroke="#aa1239" stroke-width="1.2" />
<line x1="477.5" y1="292.6" x2="489.2" y2="292.6" stroke="#aa1239" stroke-width="1.2" />
<rect x="473.2" y="321.2" width="21.2" height="8.6" fill="#aa1239" stroke="#aa1239" stroke-width="1.0"/>
<circle cx="483.4" cy="292.6" r="1.9" fill="#aa1239"/>
<circle cx="483.4" cy="301.0" r="1.9" fill="#aa1239"/>
<circle cx="483.4" cy="312.0" r="1.9" fill="#aa1239"/>
<circle cx="484.6" cy="318.8" r="1.9" fill="#aa1239"/>
<circle cx="474.4" cy="321.2" r="1.7" fill="#aa1239"/>
<circle cx="477.4" cy="320.8" r="1.7" fill="#aa1239"/>
<circle cx="480.6" cy="321.0" r="1.7" fill="#aa1239"/>
<circle cx="487.4" cy="320.8" r="1.7" fill="#aa1239"/>
<circle cx="490.6" cy="320.6" r="1.7" fill="#aa1239"/>
<circle cx="493.4" cy="321.2" r="1.7" fill="#aa1239"/>
<circle cx="474.2" cy="329.4" r="1.7" fill="#aa1239"/>
<circle cx="477.6" cy="329.8" r="1.7" fill="#aa1239"/>
<circle cx="481.0" cy="330.0" r="1.7" fill="#aa1239"/>
<circle cx="484.4" cy="330.0" r="1.7" fill="#aa1239"/>
<circle cx="487.8" cy="329.8" r="1.7" fill="#aa1239"/>
<circle cx="491.2" cy="329.6" r="1.7" fill="#aa1239"/>
<circle cx="493.8" cy="329.2" r="1.7" fill="#aa1239"/>
<rect x="474.0" y="323.4" width="1.6" height="2.1" fill="#fbeef0" />
<rect x="477.0" y="323.4" width="1.6" height="2.1" fill="#fbeef0" />
<rect x="479.8" y="323.4" width="2.6" height="2.1" fill="#fbeef0" />
<rect x="483.5" y="323.4" width="1.5" height="2.1" fill="#fbeef0" />
<rect x="486.7" y="323.4" width="1.2" height="2.1" fill="#fbeef0" />
<rect x="489.9" y="323.4" width="2.7" height="2.1" fill="#fbeef0" />
<text x="431.2" y="343.8" font-size="8.6" stroke="#141414" stroke-width="0.2" font-style="italic" fill="#141414" textLength="29.6" lengthAdjust="spacingAndGlyphs">MLL-AF9</text>
<text x="430.6" y="353.1" font-size="8.6" stroke="#141414" stroke-width="0.2" font-style="italic" fill="#141414" textLength="30.2" lengthAdjust="spacingAndGlyphs">Setd2 +/+</text>
<text x="472.9" y="343.8" font-size="8.6" stroke="#141414" stroke-width="0.2" font-style="italic" fill="#141414" textLength="29.4" lengthAdjust="spacingAndGlyphs">MLL-AF9</text>
<text x="472.3" y="353.1" font-size="8.6" stroke="#141414" stroke-width="0.2" font-style="italic" fill="#141414" textLength="29.4" lengthAdjust="spacingAndGlyphs">Setd2 fl/+</text>
<line x1="51.3" y1="422.7" x2="51.3" y2="519.8" stroke="#000" stroke-width="1.45" />
<line x1="47.9" y1="519.1" x2="199.0" y2="519.1" stroke="#000" stroke-width="1.65" />
<line x1="47.9" y1="519.1" x2="51.2" y2="519.1" stroke="#000" stroke-width="1.0" />
<text x="44.6" y="521.8000000000001" font-size="8.25" stroke="#141414" stroke-width="0.14" text-anchor="end" fill="#141414" textLength="4.17" lengthAdjust="spacingAndGlyphs">0</text>
<line x1="47.9" y1="497.3" x2="51.2" y2="497.3" stroke="#000" stroke-width="1.0" />
<text x="44.6" y="500.0" font-size="8.25" stroke="#141414" stroke-width="0.14" text-anchor="end" fill="#141414" textLength="8.34" lengthAdjust="spacingAndGlyphs">25</text>
<line x1="47.9" y1="475.5" x2="51.2" y2="475.5" stroke="#000" stroke-width="1.0" />
<text x="44.6" y="478.2" font-size="8.25" stroke="#141414" stroke-width="0.14" text-anchor="end" fill="#141414" textLength="8.34" lengthAdjust="spacingAndGlyphs">50</text>
<line x1="47.9" y1="453.70000000000005" x2="51.2" y2="453.70000000000005" stroke="#000" stroke-width="1.0" />
<text x="44.6" y="456.40000000000003" font-size="8.25" stroke="#141414" stroke-width="0.14" text-anchor="end" fill="#141414" textLength="8.34" lengthAdjust="spacingAndGlyphs">75</text>
<line x1="47.9" y1="431.90000000000003" x2="51.2" y2="431.90000000000003" stroke="#000" stroke-width="1.0" />
<text x="44.6" y="434.6" font-size="8.25" stroke="#141414" stroke-width="0.14" text-anchor="end" fill="#141414" textLength="12.51" lengthAdjust="spacingAndGlyphs">100</text>
<line x1="51.2" y1="519.1" x2="51.2" y2="522.3" stroke="#000" stroke-width="1.0" />
<text x="51.2" y="532.3" font-size="8.25" stroke="#141414" stroke-width="0.14" text-anchor="middle" fill="#141414" textLength="4.17" lengthAdjust="spacingAndGlyphs">0</text>
<line x1="99.07" y1="519.1" x2="99.07" y2="522.3" stroke="#000" stroke-width="1.0" />
<text x="99.07" y="532.3" font-size="8.25" stroke="#141414" stroke-width="0.14" text-anchor="middle" fill="#141414" textLength="8.34" lengthAdjust="spacingAndGlyphs">10</text>
<line x1="146.94" y1="519.1" x2="146.94" y2="522.3" stroke="#000" stroke-width="1.0" />
<text x="146.94" y="532.3" font-size="8.25" stroke="#141414" stroke-width="0.14" text-anchor="middle" fill="#141414" textLength="8.34" lengthAdjust="spacingAndGlyphs">20</text>
<line x1="194.81" y1="519.1" x2="194.81" y2="522.3" stroke="#000" stroke-width="1.0" />
<text x="194.81" y="532.3" font-size="8.25" stroke="#141414" stroke-width="0.14" text-anchor="middle" fill="#141414" textLength="8.34" lengthAdjust="spacingAndGlyphs">30</text>
<text x="68.6" y="545.9" font-size="10.0" stroke="#141414" stroke-width="0.3" fill="#141414" textLength="113.8" lengthAdjust="spacingAndGlyphs">Days from treatment initiation</text>
<text x="88.5" y="557.1" font-size="8.8" stroke="#141414" stroke-width="0.25" font-style="italic" fill="#141414" textLength="75.0" lengthAdjust="spacingAndGlyphs">MLL-AF9 Setd2 +/+</text>
<text x="26.2" y="490.8" font-size="9.6" stroke="#141414" stroke-width="0.25" fill="#141414" textLength="40.2" lengthAdjust="spacingAndGlyphs" transform="rotate(-90 26.2 490.8)">% survival</text>
<polyline points="108.644,431.90000000000003 132.579,431.90000000000003 132.579,466.78000000000003 137.36599999999999,466.78000000000003 137.36599999999999,484.22 170.875,484.22 170.875,501.66 185.236,501.66 185.236,519.1" fill="none" stroke="#a3163e" stroke-width="1.6" stroke-linejoin="miter" />
<polyline points="51.2,431.90000000000003 108.644,431.90000000000003 108.644,446.43624 113.43100000000001,446.43624 113.43100000000001,475.5 127.792,475.5 127.792,519.1" fill="none" stroke="#4a4a52" stroke-width="1.6" stroke-linejoin="miter" />
<line x1="56.3" y1="488.8" x2="63.3" y2="488.8" stroke="#4a4a52" stroke-width="1.3" />
<line x1="59.8" y1="487.2" x2="59.8" y2="488.8" stroke="#4a4a52" stroke-width="1.0" />
<line x1="56.3" y1="499.4" x2="63.3" y2="499.4" stroke="#a3163e" stroke-width="1.3" />
<line x1="59.8" y1="497.79999999999995" x2="59.8" y2="499.4" stroke="#a3163e" stroke-width="1.0" />
<text x="67.1" y="490.8" font-size="7.9" stroke="#141414" stroke-width="0.14" fill="#141414" textLength="23.1" lengthAdjust="spacingAndGlyphs">vehicle</text>
<text x="67.1" y="501.2" font-size="7.9" stroke="#141414" stroke-width="0.14" fill="#141414" textLength="34.9" lengthAdjust="spacingAndGlyphs">cytarabine</text>
<text x="141.9" y="459.2" font-size="8.0" stroke="#141414" stroke-width="0.18" fill="#141414" textLength="32.1" lengthAdjust="spacingAndGlyphs">p &lt; 0.005</text>
<line x1="273.5" y1="420.0" x2="273.5" y2="519.9" stroke="#000" stroke-width="1.45" />
<line x1="270.0" y1="519.2" x2="425.0" y2="519.2" stroke="#000" stroke-width="1.65" />
<line x1="270.0" y1="519.2" x2="273.5" y2="519.2" stroke="#000" stroke-width="1.0" />
<text x="267.0" y="521.9000000000001" font-size="8.25" stroke="#141414" stroke-width="0.14" text-anchor="end" fill="#141414" textLength="4.17" lengthAdjust="spacingAndGlyphs">0</text>
<line x1="270.0" y1="496.85" x2="273.5" y2="496.85" stroke="#000" stroke-width="1.0" />
<text x="267.0" y="499.55" font-size="8.25" stroke="#141414" stroke-width="0.14" text-anchor="end" fill="#141414" textLength="8.34" lengthAdjust="spacingAndGlyphs">25</text>
<line x1="270.0" y1="474.50000000000006" x2="273.5" y2="474.50000000000006" stroke="#000" stroke-width="1.0" />
<text x="267.0" y="477.20000000000005" font-size="8.25" stroke="#141414" stroke-width="0.14" text-anchor="end" fill="#141414" textLength="8.34" lengthAdjust="spacingAndGlyphs">50</text>
<line x1="270.0" y1="452.15000000000003" x2="273.5" y2="452.15000000000003" stroke="#000" stroke-width="1.0" />
<text x="267.0" y="454.85" font-size="8.25" stroke="#141414" stroke-width="0.14" text-anchor="end" fill="#141414" textLength="8.34" lengthAdjust="spacingAndGlyphs">75</text>
<line x1="270.0" y1="429.80000000000007" x2="273.5" y2="429.80000000000007" stroke="#000" stroke-width="1.0" />
<text x="267.0" y="432.50000000000006" font-size="8.25" stroke="#141414" stroke-width="0.14" text-anchor="end" fill="#141414" textLength="12.51" lengthAdjust="spacingAndGlyphs">100</text>
<line x1="273.5" y1="519.2" x2="273.5" y2="522.3" stroke="#000" stroke-width="1.0" />
<text x="273.5" y="532.3" font-size="8.25" stroke="#141414" stroke-width="0.14" text-anchor="middle" fill="#141414" textLength="4.17" lengthAdjust="spacingAndGlyphs">0</text>
<line x1="322.9" y1="519.2" x2="322.9" y2="522.3" stroke="#000" stroke-width="1.0" />
<text x="322.9" y="532.3" font-size="8.25" stroke="#141414" stroke-width="0.14" text-anchor="middle" fill="#141414" textLength="8.34" lengthAdjust="spacingAndGlyphs">10</text>
<line x1="372.3" y1="519.2" x2="372.3" y2="522.3" stroke="#000" stroke-width="1.0" />
<text x="372.3" y="532.3" font-size="8.25" stroke="#141414" stroke-width="0.14" text-anchor="middle" fill="#141414" textLength="8.34" lengthAdjust="spacingAndGlyphs">20</text>
<line x1="421.70000000000005" y1="519.2" x2="421.70000000000005" y2="522.3" stroke="#000" stroke-width="1.0" />
<text x="421.70000000000005" y="532.3" font-size="8.25" stroke="#141414" stroke-width="0.14" text-anchor="middle" fill="#141414" textLength="8.34" lengthAdjust="spacingAndGlyphs">30</text>
<text x="291.5" y="545.8" font-size="10.0" stroke="#141414" stroke-width="0.3" fill="#141414" textLength="114.7" lengthAdjust="spacingAndGlyphs">Days from treatment initiation</text>
<text x="312.0" y="557.6" font-size="8.8" stroke="#141414" stroke-width="0.25" font-style="italic" fill="#141414" textLength="75.0" lengthAdjust="spacingAndGlyphs">MLL-AF9 Setd2 fl/+</text>
<text x="248.2" y="490.8" font-size="9.6" stroke="#141414" stroke-width="0.25" fill="#141414" textLength="40.8" lengthAdjust="spacingAndGlyphs" transform="rotate(-90 248.2 490.8)">% survival</text>
<polyline points="273.5,429.80000000000007 308.08,429.80000000000007 308.08,444.70298 322.9,444.70298 322.9,459.59702000000004 327.84000000000003,459.59702000000004 327.84000000000003,474.50000000000006 342.66,474.50000000000006 342.66,519.2" fill="none" stroke="#a3163e" stroke-width="1.6" stroke-linejoin="miter" />
<polyline points="273.5,429.80000000000007 313.02,429.80000000000007 313.02,440.975 317.96,440.975 317.96,452.15000000000003 322.9,452.15000000000003 322.9,474.50000000000006 327.84000000000003,474.50000000000006 327.84000000000003,508.02500000000003 342.166,508.02500000000003 342.166,519.2" fill="none" stroke="#4a4a52" stroke-width="1.6" stroke-linejoin="miter" />
<line x1="356.5" y1="438.4" x2="363.8" y2="438.4" stroke="#4a4a52" stroke-width="1.3" />
<line x1="360.15" y1="436.79999999999995" x2="360.15" y2="438.4" stroke="#4a4a52" stroke-width="1.0" />
<line x1="356.5" y1="448.1" x2="363.8" y2="448.1" stroke="#a3163e" stroke-width="1.3" />
<line x1="360.15" y1="446.5" x2="360.15" y2="448.1" stroke="#a3163e" stroke-width="1.0" />
<text x="366.5" y="440.6" font-size="7.9" stroke="#141414" stroke-width="0.14" fill="#141414" textLength="24.2" lengthAdjust="spacingAndGlyphs">vehicle</text>
<text x="366.5" y="450.4" font-size="7.9" stroke="#141414" stroke-width="0.14" fill="#141414" textLength="35.7" lengthAdjust="spacingAndGlyphs">cytarabine</text>
<text x="331.9" y="466.2" font-size="8.0" stroke="#141414" stroke-width="0.18" fill="#141414" textLength="12.2" lengthAdjust="spacingAndGlyphs">n.s.</text>
<rect x="0.5" y="0.5" width="519" height="566" fill="none" stroke="#000" stroke-width="1"/>
</svg>
</body></html>
